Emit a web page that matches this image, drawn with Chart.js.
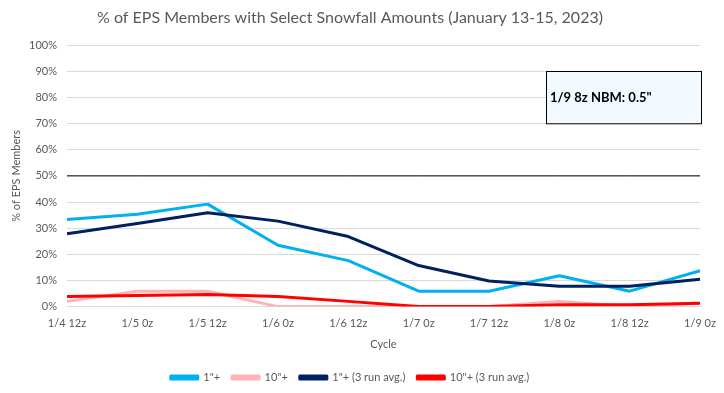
<!DOCTYPE html>
<html>
<head>
<meta charset="utf-8">
<script src="https://cdn.jsdelivr.net/npm/chart.js@4"></script>
<style>
  html, body { margin: 0; padding: 0; background: #ffffff; }
  #wrap { width: 724px; height: 393px; }
</style>
</head>
<body>
<div id="wrap"><canvas id="chart"></canvas></div>
<script>
// cycles on the x axis
const cycles = ["1/4 12z", "1/5 0z", "1/5 12z", "1/6 0z", "1/6 12z", "1/7 0z", "1/7 12z", "1/8 0z", "1/8 12z", "1/9 0z"];

// % of members
const oneInch = [33.3, 35.3, 39.2, 23.5, 17.6, 5.9, 5.9, 11.8, 5.9, 13.7];
const tenInch = [2.0, 5.9, 5.9, 0, 0, 0, 0, 2.0, 0, 1.3];
const oneInchAvg = [27.9, 31.8, 35.9, 32.7, 26.8, 15.7, 9.8, 7.8, 7.8, 10.5];
const tenInchAvg = [3.9, 4.2, 4.6, 3.9, 2.0, 0, 0, 0.7, 0.7, 1.3];
const halfLine = [50, 50, 50, 50, 50, 50, 50, 50, 50, 50];

const noteText = '1/9 8z NBM: 0.5"';

const textFont = "Lato, 'Open Sans', sans-serif";
const grey = "#595959";

//plugin for the NBM note box in the top right
const noteBox = {
  id: "noteBox",
  afterDatasetsDraw(chart) {
    const { ctx, chartArea, scales } = chart;
    const top = scales.y.getPixelForValue(90);
    const bottom = scales.y.getPixelForValue(70);
    const right = chartArea.right + 1;
    const left = right - 155;
    ctx.save();
    ctx.fillStyle = "#f2faff";
    ctx.fillRect(left, top, right - left, bottom - top);
    ctx.strokeStyle = "#000000";
    ctx.lineWidth = 1;
    ctx.strokeRect(Math.round(left) + 0.5, Math.round(top) + 0.5, right - left, bottom - top);
    ctx.fillStyle = "#000000";
    ctx.font = "bold 13px " + textFont;
    ctx.textBaseline = "middle";
    ctx.fillText(noteText, left + 4, top + (bottom - top) / 2);
    ctx.restore();
  },
};

//later series drawn on top, like the original
const lineSet = (label, data, color, order) => ({
  label: label,
  data: data,
  borderColor: color,
  backgroundColor: color,
  borderWidth: 3,
  pointRadius: 0,
  tension: 0,
  borderJoinStyle: "round",
  order: order,
});

new Chart(document.getElementById("chart"), {
  type: "line",
  data: {
    labels: cycles,
    datasets: [
      lineSet('1"+', oneInch, "#00b0f0", 4),
      lineSet('10"+', tenInch, "#ffb3b5", 3),
      lineSet('1"+ (3 run avg.)', oneInchAvg, "#002060", 2),
      lineSet('10"+ (3 run avg.)', tenInchAvg, "#ff0000", 1),
      {
        label: "50%",
        data: halfLine,
        borderColor: "#000000",
        borderWidth: 1,
        pointRadius: 0,
        order: 10,
      },
    ],
  },
  plugins: [noteBox],
  options: {
    responsive: true,
    maintainAspectRatio: false,
    animation: false,
    layout: { padding: { left: 0, right: 24, top: 0, bottom: 0 } },
    plugins: {
      title: {
        display: true,
        text: "% of EPS Members with Select Snowfall Amounts (January 13-15, 2023)",
        color: grey,
        font: { family: textFont, size: 16, weight: "normal" },
        padding: { top: 8, bottom: 18 },
      },
      legend: {
        position: "bottom",
        labels: {
          color: grey,
          font: { family: textFont, size: 11 },
          boxWidth: 27,
          boxHeight: 3,
          padding: 12,
          filter: (item) => item.text !== "50%",
          sort: (a, b) => a.datasetIndex - b.datasetIndex,
        },
      },
      tooltip: { enabled: false },
    },
    scales: {
      x: {
        grid: { display: false },
        border: { color: "#d9d9d9" },
        ticks: { color: grey, font: { family: textFont, size: 11 }, maxRotation: 0, autoSkip: false, padding: 2 },
        title: { display: true, text: "Cycle", color: grey, font: { family: textFont, size: 11 }, padding: { top: 6, bottom: 9 } },
      },
      y: {
        min: 0,
        max: 100,
        ticks: {
          stepSize: 10,
          color: grey,
          font: { family: textFont, size: 11 },
          padding: 10,
          callback: (v) => v + "%",
        },
        grid: { color: "#d9d9d9", drawTicks: false },
        border: { display: false },
        title: { display: true, text: "% of EPS Members", color: grey, font: { family: textFont, size: 11 }, padding: { top: 10, bottom: 0 } },
        afterFit: (scale) => { scale.width = 67; },
      },
    },
  },
});
</script>
</body>
</html>
